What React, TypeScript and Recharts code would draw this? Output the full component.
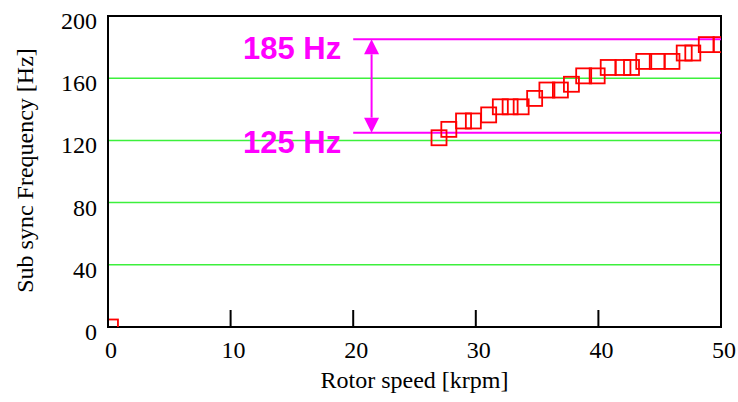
import React from 'react';
import {
    ScatterChart,
    Scatter,
    XAxis,
    YAxis,
    CartesianGrid,
    ReferenceLine,
    ReferenceArea,
} from 'recharts';

const xTicks = [0, 10, 20, 30, 40, 50];
const yTicks = [0, 40, 80, 120, 160, 200];

// Rotor speed [krpm] against measured sub-synchronous frequency [Hz]
const speedKrpm = [
    0.2, 27.0, 27.8, 29.0, 29.8, 31.05, 32.0, 32.8, 33.7, 34.8, 35.8, 36.9, 37.8,
    38.8, 39.9, 40.8, 42.0, 42.7, 43.7, 44.8, 46.0, 47.0, 47.7, 48.8, 50.0,
];
const subSyncHz = [
    0, 121.7, 127.1, 132.5, 132.5, 136.4, 141.6, 141.6, 141.6, 147.0, 152.4, 152.4, 156.1,
    161.5, 161.5, 166.9, 166.9, 166.9, 170.8, 170.8, 170.8, 176.2, 176.2, 181.6, 181.6,
];

// Frequency band markers
const bandHz = [185, 125];
const bandFrom = 20;
const bandTo = 50;
const arrowAt = 21.5;

const points = speedKrpm.map((s, i) => ({ speed: s, freq: subSyncHz[i] }));

const SERIF = 'Liberation Serif, Times New Roman, serif';
const SANS = 'Liberation Sans, Arial, sans-serif';
const MAGENTA = '#ff00ff';
const GRID_GREEN = '#3cf03c';

const serifText = { fontFamily: SERIF, fontSize: 24 };

const BottomTick = ({ x, y, payload }: any) => (
    <g>
        <line x1={x} y1={y} x2={x} y2={y - 17} stroke="#000" strokeWidth={2} />
        <text x={x + 3} y={y + 31} textAnchor="middle" style={serifText} fill="#000">
            {payload.value}
        </text>
    </g>
);

const TopTick = ({ x, y }: any) => (
    <line x1={x} y1={y} x2={x} y2={y + 17} stroke="#000" strokeWidth={2} />
);

const LeftTick = ({ x, y, payload }: any) => (
    <text x={x - 11} y={y + 13} textAnchor="end" style={serifText} fill="#000">
        {payload.value}
    </text>
);

const SquareMarker = (props: any) => {
    const { cx, cy } = props;
    if (cx == null || cy == null) return null;
    return (
        <rect x={cx - 7.5} y={cy - 7.5} width={15} height={15} fill="none" stroke="#ff0000" strokeWidth={1.8} />
    );
};

// horizontal band line with its bold label to the left
const bandLine = (label: string) => (props: any) => {
    const { x1, y1, x2, y2 } = props;
    return (
        <g>
            <line x1={x1} y1={y1} x2={x2} y2={y2} stroke={MAGENTA} strokeWidth={2} />
            <text
                x={x1 - 12}
                y={y1 + 20}
                textAnchor="end"
                style={{ fontFamily: SANS, fontWeight: 'bold', fontSize: 31 }}
                fill={MAGENTA}
            >
                {label}
            </text>
        </g>
    );
};

// double headed vertical arrow between the two band lines
const doubleArrow = (props: any) => {
    const { x1, y1, y2 } = props;
    const top = Math.min(y1, y2);
    const bot = Math.max(y1, y2);
    const hw = 7.5;
    const hh = 15;
    return (
        <g>
            <line x1={x1} y1={top + hh} x2={x1} y2={bot - hh} stroke={MAGENTA} strokeWidth={2} />
            <polygon points={`${x1},${top} ${x1 - hw},${top + hh} ${x1 + hw},${top + hh}`} fill={MAGENTA} />
            <polygon points={`${x1},${bot} ${x1 - hw},${bot - hh} ${x1 + hw},${bot - hh}`} fill={MAGENTA} />
        </g>
    );
};

export default function App() {
    return (
        <div style={{ position: 'absolute', left: 0, top: 0, background: '#fff' }}>
            <ScatterChart width={738} height={402} margin={{ top: 16, right: 17, bottom: 0, left: 0 }}>
                <CartesianGrid vertical={false} stroke={GRID_GREEN} strokeWidth={1.5} />
                <XAxis
                    type="number"
                    dataKey="speed"
                    domain={[0, 50]}
                    ticks={xTicks}
                    interval={0}
                    allowDataOverflow
                    height={75}
                    axisLine={false}
                    tickLine={false}
                    tickSize={0}
                    tickMargin={0}
                    tick={<BottomTick />}
                    label={{
                        content: (p: any) => (
                            <text
                                x={p.viewBox.x + p.viewBox.width / 2}
                                y={p.viewBox.y + 61}
                                textAnchor="middle"
                                style={serifText}
                                fill="#000"
                            >
                                Rotor speed [krpm]
                            </text>
                        ),
                    }}
                />
                <XAxis
                    xAxisId="top"
                    type="number"
                    orientation="top"
                    domain={[0, 50]}
                    ticks={xTicks}
                    interval={0}
                    height={0}
                    axisLine={false}
                    tickLine={false}
                    tickSize={0}
                    tickMargin={0}
                    tick={<TopTick />}
                />
                <YAxis
                    type="number"
                    dataKey="freq"
                    domain={[0, 200]}
                    ticks={yTicks}
                    interval={0}
                    allowDataOverflow
                    width={108}
                    axisLine={false}
                    tickLine={false}
                    tickSize={0}
                    tickMargin={0}
                    tick={<LeftTick />}
                    label={{
                        content: (p: any) => {
                            const cy = p.viewBox.y + p.viewBox.height / 2 - 1;
                            return (
                                <text
                                    x={33}
                                    y={cy}
                                    transform={`rotate(-90, 33, ${cy})`}
                                    textAnchor="middle"
                                    style={serifText}
                                    fill="#000"
                                >
                                    Sub sync Frequency [Hz]
                                </text>
                            );
                        },
                    }}
                />
                <ReferenceArea
                    x1={0}
                    x2={50}
                    y1={0}
                    y2={200}
                    fill="none"
                    fillOpacity={0}
                    stroke="#000"
                    strokeWidth={2}
                />
                <ReferenceLine
                    segment={[{ x: bandFrom, y: bandHz[0] }, { x: bandTo, y: bandHz[0] }]}
                    shape={bandLine(`${bandHz[0]} Hz`)}
                />
                <ReferenceLine
                    segment={[{ x: bandFrom, y: bandHz[1] }, { x: bandTo, y: bandHz[1] }]}
                    shape={bandLine(`${bandHz[1]} Hz`)}
                />
                <ReferenceLine
                    segment={[{ x: arrowAt, y: bandHz[0] }, { x: arrowAt, y: bandHz[1] }]}
                    shape={doubleArrow}
                />
                <Scatter data={points} shape={<SquareMarker />} isAnimationActive={false} />
            </ScatterChart>
        </div>
    );
}
